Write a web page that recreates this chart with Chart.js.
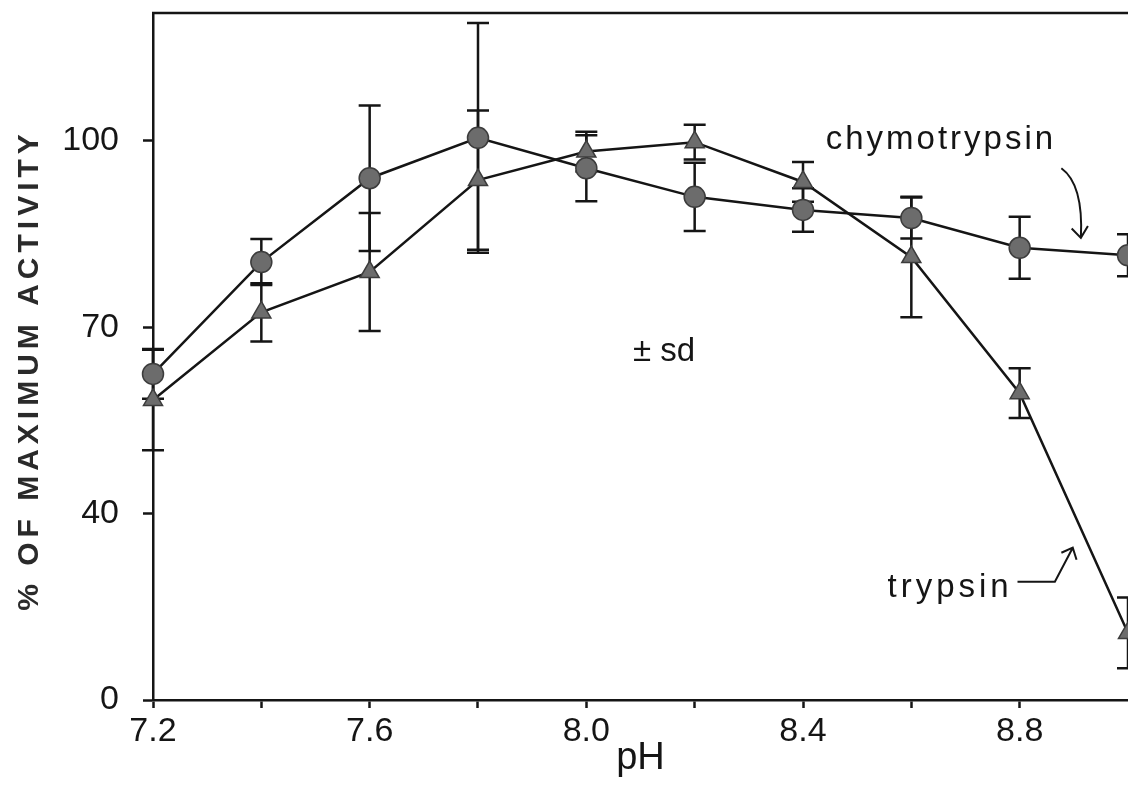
<!DOCTYPE html>
<html>
<head>
<meta charset="utf-8">
<title>Activity vs pH</title>
<script src="https://cdn.jsdelivr.net/npm/chart.js@4.4.1/dist/chart.umd.min.js"></script>
<style>
    html, body { margin: 0; padding: 0; background: #fff; overflow: hidden; }
    canvas { display: block; }
</style>
</head>
<body>
<canvas id="chart" width="1128" height="787"></canvas>
<script>
// pH profile of chymotrypsin (circles) and trypsin (triangles), mean ± sd.

const phValues = [7.2, 7.4, 7.6, 7.8, 8.0, 8.2, 8.4, 8.6, 8.8, 9.0];
const chymoMean = [62.5, 80.5, 94.0, 100.5, 95.6, 91.0, 88.9, 87.6, 82.8, 81.6];
const chymoSd = [4.0, 3.7, 11.7, 18.5, 5.3, 5.5, 3.5, 3.3, 5.0, 3.4];
const trypMean = [58.3, 72.4, 78.9, 93.7, 98.3, 99.8, 93.4, 81.3, 59.4, 14.4];
const trypSd = [8.1, 4.7, 9.5, 11.2, 3.2, 2.8, 3.2, 9.7, 4.0, 7.6];

const xTicks = [7.2, 7.4, 7.6, 7.8, 8.0, 8.2, 8.4, 8.6, 8.8];
const xLabels = ['7.2', '', '7.6', '', '8.0', '', '8.4', '', '8.8'];
const yTicks = [0, 40, 70, 100];

const INK = '#151515';
const FONT = "'Liberation Sans', Arial, sans-serif";

// y axis is broken: 0..40 gets the same height as a 30-unit step above 40
const BREAK = 40;
const SQUEEZE = 0.75;
const toU = (v) => (v >= BREAK ? v : BREAK - (BREAK - v) * SQUEEZE);
const fromU = (u) => (u >= BREAK ? u : BREAK - (BREAK - u) / SQUEEZE);

class BrokenLinearScale extends Chart.LinearScale {
    configure() {
        super.configure();
        this._startValue = toU(this.min);
        this._endValue = toU(this.max);
        this._valueRange = this._endValue - this._startValue;
    }
    getPixelForValue(value) {
        if (value == null) return NaN;
        return this.getPixelForDecimal((toU(value) - this._startValue) / this._valueRange);
    }
    getValueForPixel(pixel) {
        return fromU(this._startValue + this.getDecimalForPixel(pixel) * this._valueRange);
    }
}
BrokenLinearScale.id = 'brokenLinear';
BrokenLinearScale.defaults = Chart.LinearScale.defaults;
Chart.register(BrokenLinearScale);

// labels and arrows, in data units (pH, %)
const notes = [
    { text: 'chymotrypsin', x: 8.442, y: 100.1, spacing: 3 },
    { text: 'trypsin', x: 8.556, y: 24.1, spacing: 4 },
    { text: '± sd', x: 8.086, y: 66.0, spacing: 0 },
];

const errorBars = {
    id: 'errorBars',
    beforeDatasetsDraw(chart) {
        const { ctx, scales: { x, y } } = chart;
        const cap = 11;
        ctx.save();
        ctx.strokeStyle = INK;
        ctx.lineWidth = 2.5;
        chart.data.datasets.forEach((ds) => {
            ds.data.forEach((p, i) => {
                const px = x.getPixelForValue(p.x);
                const top = y.getPixelForValue(p.y + ds.sd[i]);
                const bot = y.getPixelForValue(p.y - ds.sd[i]);
                ctx.beginPath();
                ctx.moveTo(px, top);
                ctx.lineTo(px, bot);
                ctx.moveTo(px - cap, top);
                ctx.lineTo(px + cap, top);
                ctx.moveTo(px - cap, bot);
                ctx.lineTo(px + cap, bot);
                ctx.stroke();
            });
        });
        ctx.restore();
    },
};

const annotations = {
    id: 'annotations',
    afterDraw(chart) {
        const { ctx, chartArea, scales: { x, y } } = chart;
        const X = (v) => x.getPixelForValue(v);
        const Y = (v) => y.getPixelForValue(v);

        ctx.save();
        ctx.strokeStyle = INK;
        ctx.lineWidth = 2.5;

        // top frame line
        ctx.beginPath();
        ctx.moveTo(chartArea.left - 1, chartArea.top);
        ctx.lineTo(chartArea.right, chartArea.top);
        ctx.stroke();

        ctx.fillStyle = INK;
        ctx.font = `33px ${FONT}`;
        ctx.textAlign = 'left';
        ctx.textBaseline = 'middle';
        notes.forEach((n) => {
            ctx.letterSpacing = `${n.spacing}px`;
            ctx.fillText(n.text, X(n.x), Y(n.y));
        });
        ctx.letterSpacing = '0px';

        // chymotrypsin arrow (curved, pointing down)
        ctx.lineWidth = 2;
        ctx.beginPath();
        ctx.moveTo(X(8.877), Y(95.6));
        ctx.quadraticCurveTo(X(8.918), Y(93.0), X(8.913), Y(84.4));
        ctx.moveTo(X(8.896), Y(85.9));
        ctx.lineTo(X(8.913), Y(84.4));
        ctx.lineTo(X(8.926), Y(86.3));
        ctx.stroke();

        // trypsin arrow (hooked, pointing up-right)
        ctx.beginPath();
        ctx.moveTo(X(8.796), Y(25.4));
        ctx.lineTo(X(8.865), Y(25.4));
        ctx.lineTo(X(8.898), Y(32.7));
        ctx.moveTo(X(8.877), Y(31.6));
        ctx.lineTo(X(8.898), Y(32.7));
        ctx.lineTo(X(8.905), Y(30.1));
        ctx.stroke();

        // y axis title, spaced capitals
        ctx.translate(30, 370);
        ctx.rotate(-Math.PI / 2);
        ctx.font = `bold 30px ${FONT}`;
        ctx.fillStyle = '#2a2a2a';
        ctx.textAlign = 'center';
        ctx.letterSpacing = '5px';
        ctx.fillText('% OF MAXIMUM ACTIVITY', 0, 0);
        ctx.restore();
    },
};

const points = (means) => phValues.map((ph, i) => ({ x: ph, y: means[i] }));

new Chart(document.getElementById('chart'), {
    type: 'line',
    data: {
        datasets: [
            {
                label: 'trypsin',
                data: points(trypMean),
                sd: trypSd,
                borderColor: INK,
                borderWidth: 2.5,
                pointStyle: 'triangle',
                pointRadius: 11,
                pointBackgroundColor: '#6c6c6c',
                pointBorderColor: '#3c3c3c',
                pointBorderWidth: 1.5,
                clip: false,
            },
            {
                label: 'chymotrypsin',
                data: points(chymoMean),
                sd: chymoSd,
                borderColor: INK,
                borderWidth: 2.5,
                pointStyle: 'circle',
                pointRadius: 10.5,
                pointBackgroundColor: '#6c6c6c',
                pointBorderColor: '#3c3c3c',
                pointBorderWidth: 1.5,
                clip: false,
            },
        ],
    },
    options: {
        responsive: false,
        animation: false,
        events: [],
        layout: { padding: 0, autoPadding: false },
        plugins: {
            legend: { display: false },
            tooltip: { enabled: false },
        },
        scales: {
            x: {
                type: 'linear',
                min: 7.2,
                max: 9.0,
                afterBuildTicks: (s) => {
                    s.ticks = xTicks.map((v) => ({ value: v }));
                },
                afterFit: (s) => {
                    s.height = 87;
                    s.paddingLeft = 0;
                    s.paddingRight = 0;
                },
                grid: { drawOnChartArea: false, tickLength: 8, tickWidth: 2.5, tickColor: INK },
                border: { display: true, color: INK, width: 2.5 },
                ticks: {
                    autoSkip: false,
                    maxRotation: 0,
                    padding: 3,
                    color: INK,
                    font: { family: FONT, size: 34 },
                    callback: (v, i) => xLabels[i],
                },
                title: {
                    display: true,
                    text: 'pH',
                    color: INK,
                    font: { family: FONT, size: 38 },
                    padding: { top: 0, bottom: 6 },
                },
            },
            y: {
                type: 'brokenLinear',
                min: 0,
                max: 120.6,
                afterBuildTicks: (s) => {
                    s.ticks = yTicks.map((v) => ({ value: v }));
                },
                afterFit: (s) => {
                    s.width = 153;
                    s.paddingTop = 13;
                    s.paddingBottom = 0;
                },
                grid: { drawOnChartArea: false, tickLength: 10, tickWidth: 2.5, tickColor: INK },
                border: { display: true, color: INK, width: 2.5 },
                ticks: {
                    padding: 24,
                    color: INK,
                    font: { family: FONT, size: 34 },
                    callback: (v) => String(v),
                },
            },
        },
    },
    plugins: [errorBars, annotations],
});
</script>
</body>
</html>
